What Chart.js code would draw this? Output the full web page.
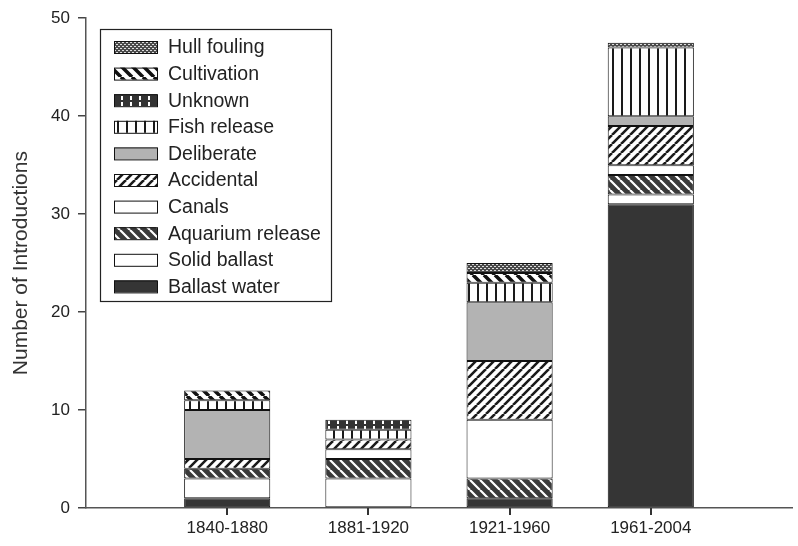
<!DOCTYPE html>
<html>
<head>
<meta charset="utf-8">
<script src="https://cdn.jsdelivr.net/npm/chart.js@4.4.1/dist/chart.umd.min.js"></script>
<style>
  html, body { margin: 0; padding: 0; background: #fff; }
  #wrap { width: 798px; height: 546px; }
</style>
</head>
<body>
<div id="wrap"><canvas id="chart" width="798" height="546"></canvas></div>
<script>
var periods = ["1840-1880", "1881-1920", "1921-1960", "1961-2004"];

// one array per vector (bottom of the stack first)
var ballast_water    = [1, 0, 1, 31];
var solid_ballast    = [2, 3, 0, 1];
var aquarium_release = [1, 2, 2, 2];
var canals           = [0, 1, 6, 1];
var accidental       = [1, 1, 6, 4];
var deliberate       = [5, 0, 6, 1];
var fish_release     = [1, 1, 2, 7];
var unknown          = [0, 1, 0, 0];
var cultivation      = [1, 0, 1, 0];
var hull_fouling     = [0, 0, 1, 0.5];

var y_min = 0, y_max = 50, y_step = 10;

var FONT = "'Liberation Sans', Arial, sans-serif";

function makePattern(bg, draw, w, h) {
  var c = document.createElement('canvas');
  c.width = w; c.height = h || w;
  var g = c.getContext('2d');
  g.fillStyle = bg;
  g.fillRect(0, 0, c.width, c.height);
  if (draw) draw(g, c.width, c.height);
  return g.createPattern(c, 'repeat');
}

function diag(color, lw, dir) {
  return function(g, w, h) {
    g.strokeStyle = color;
    g.lineWidth = lw;
    g.beginPath();
    for (var k = -1; k <= 1; k++) {
      if (dir > 0) { g.moveTo(k * w, h); g.lineTo(k * w + w, 0); }
      else { g.moveTo(k * w, 0); g.lineTo(k * w + w, h); }
    }
    g.stroke();
  };
}

var fills = {
  ballast: '#353535',
  solid: '#ffffff',
  aquarium: makePattern('#3a3a3a', diag('#ffffff', 2.2, -1), 10),
  canals: '#ffffff',
  accidental: makePattern('#ffffff', diag('#1a1a1a', 2.6, 1), 9),
  deliberate: '#b3b3b3',
  fish: makePattern('#ffffff', function(g, w, h) {
    g.fillStyle = '#1a1a1a'; g.fillRect(0, 0, 2, h);
  }, 9, 4),
  unknown: makePattern('#333333', function(g, w, h) {
    g.fillStyle = '#ffffff'; g.fillRect(4, 0, 2, 4);
  }, 9, 6),
  cultivation: makePattern('#ffffff', diag('#111111', 3.6, -1), 11),
  hull: makePattern('#4a4a4a', function(g, w, h) {
    g.fillStyle = '#dddddd';
    g.fillRect(0, 0, 2, 1);
    g.fillRect(2, 2, 2, 1);
  }, 4)
};

function pts(arr) {
  return arr.map(function(v, i) { return { x: i + 1, y: v }; });
}

function ds(label, arr, fill) {
  return {
    label: label,
    data: pts(arr),
    backgroundColor: fill,
    borderColor: '#111',
    borderWidth: 1,
    borderSkipped: false,
    barPercentage: 0.61,
    categoryPercentage: 1
  };
}

var datasets = [
  ds('Ballast water', ballast_water, fills.ballast),
  ds('Solid ballast', solid_ballast, fills.solid),
  ds('Aquarium release', aquarium_release, fills.aquarium),
  ds('Canals', canals, fills.canals),
  ds('Accidental', accidental, fills.accidental),
  ds('Deliberate', deliberate, fills.deliberate),
  ds('Fish release', fish_release, fills.fish),
  ds('Unknown', unknown, fills.unknown),
  ds('Cultivation', cultivation, fills.cultivation),
  ds('Hull fouling', hull_fouling, fills.hull)
];

// boxed legend drawn inside the plot, top entry = top of the stack
var boxedLegend = {
  id: 'boxedLegend',
  afterDraw: function(chart) {
    var ctx = chart.ctx;
    var bx = 100, by = 29, bw = 231, bh = 272;
    var rowH = 26.6, y0 = 47;
    ctx.save();
    ctx.fillStyle = '#fff';
    ctx.fillRect(bx, by, bw, bh);
    ctx.strokeStyle = '#222';
    ctx.lineWidth = 1.2;
    ctx.strokeRect(bx + 0.5, by + 0.5, bw, bh);
    ctx.font = '19.5px ' + FONT;
    ctx.textBaseline = 'middle';
    ctx.textAlign = 'left';
    var list = chart.data.datasets.slice().reverse();
    list.forEach(function(d, i) {
      var cy = y0 + i * rowH;
      ctx.fillStyle = d.backgroundColor;
      ctx.fillRect(114, cy - 6, 43, 12);
      ctx.strokeStyle = '#111';
      ctx.lineWidth = 1;
      ctx.strokeRect(114.5, cy - 5.5, 43, 12);
      ctx.fillStyle = '#222';
      ctx.fillText(d.label, 168, cy + 1);
    });
    ctx.restore();
  }
};

// short tick marks under the x axis at each period
var xTickMarks = {
  id: 'xTickMarks',
  afterDraw: function(chart) {
    var s = chart.scales.x, ctx = chart.ctx;
    ctx.save();
    ctx.strokeStyle = '#333';
    ctx.lineWidth = 2;
    ctx.beginPath();
    s.ticks.forEach(function(t, i) {
      var px = Math.round(s.getPixelForTick(i));
      ctx.moveTo(px, s.top);
      ctx.lineTo(px, s.top + 7);
    });
    ctx.stroke();
    ctx.restore();
  }
};

var ctx = document.getElementById('chart');
var myChart = new Chart(ctx, {
  type: 'bar',
  data: { datasets: datasets },
  options: {
    responsive: false,
    animation: false,
    layout: { padding: { left: 0, right: 6, top: 17, bottom: 0 } },
    plugins: {
      legend: { display: false },
      tooltip: { enabled: false }
    },
    scales: {
      x: {
        type: 'linear',
        stacked: true,
        offset: false,
        min: 0,
        max: 5,
        afterBuildTicks: function(s) {
          s.ticks = periods.map(function(p, i) { return { value: i + 1 }; });
        },
        afterFit: function(s) { s.height = 38; },
        ticks: {
          autoSkip: false,
          maxRotation: 0,
          padding: 3,
          color: '#222',
          font: { size: 17, family: FONT },
          callback: function(v) { return periods[v - 1] || ''; }
        },
        grid: { display: true, offset: false, drawOnChartArea: false, drawTicks: true, tickLength: 7, color: '#333', lineWidth: 2 },
        border: { display: true, color: '#555', width: 1.5 }
      },
      y: {
        stacked: true,
        min: y_min,
        max: y_max,
        afterFit: function(s) { s.width = 86; },
        ticks: {
          stepSize: y_step,
          padding: 8,
          color: '#222',
          font: { size: 17, family: FONT }
        },
        grid: { display: true, drawOnChartArea: false, drawTicks: true, tickLength: 8, color: '#444', lineWidth: 1.5 },
        border: { display: true, color: '#555', width: 1.5 },
        title: {
          display: true,
          text: 'Number of Introductions',
          color: '#333',
          font: { size: 21, family: FONT },
          padding: { top: 9, bottom: 4 }
        }
      }
    }
  },
  plugins: [boxedLegend, xTickMarks]
});
</script>
</body>
</html>
